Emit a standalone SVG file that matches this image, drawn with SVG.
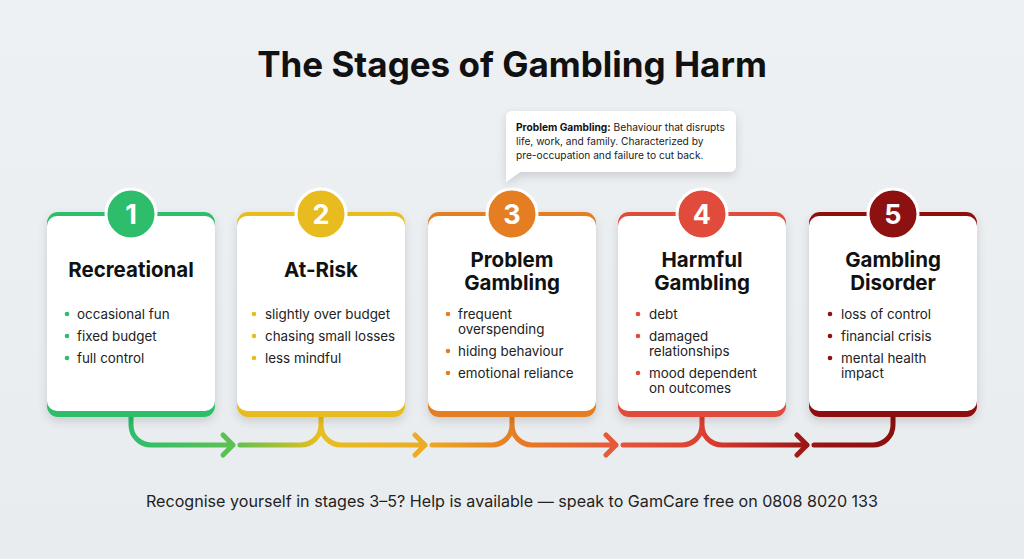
<svg xmlns="http://www.w3.org/2000/svg" width="1024" height="559" viewBox="0 0 1024 559">
<defs>
<style>
.t{font-family:Inter,"Liberation Sans",sans-serif;fill:#111}
.title{font-size:35px;font-weight:700;text-anchor:middle}
.ct{font-size:20.5px;font-weight:700;text-anchor:middle}
.num{font-size:27px;font-weight:700;fill:#fff;text-anchor:middle}
.b{font-size:13.4px;fill:#222}
.cl{font-size:10.2px;fill:#222}
.foot{font-size:16.1px;fill:#222;text-anchor:middle}
.con{fill:none;stroke:url(#cg);stroke-width:5;stroke-linecap:round;stroke-linejoin:round}
.white{fill:#fff}
</style>
<linearGradient id="bg" x1="0" y1="0" x2="0" y2="1">
<stop offset="0" stop-color="#EEF1F4"/><stop offset="1" stop-color="#E9ECEF"/>
</linearGradient>
<linearGradient id="cg" gradientUnits="userSpaceOnUse" x1="131" y1="0" x2="893" y2="0">
<stop offset="0" stop-color="#2DBE6C"/>
<stop offset="0.135" stop-color="#5EC152"/>
<stop offset="0.249" stop-color="#E9BE1F"/>
<stop offset="0.387" stop-color="#EBAB24"/>
<stop offset="0.5" stop-color="#E67E22"/>
<stop offset="0.638" stop-color="#E5573A"/>
<stop offset="0.749" stop-color="#DD4032"/>
<stop offset="0.89" stop-color="#9B1515"/>
<stop offset="1" stop-color="#8B0F0F"/>
</linearGradient>
<filter id="sh" x="-20%" y="-20%" width="140%" height="150%">
<feDropShadow dx="0" dy="4" stdDeviation="5" flood-color="#000" flood-opacity="0.14"/>
</filter>
</defs>
<rect width="1024" height="559" fill="url(#bg)"/>
<text class="t title" x="512" y="77">The Stages of Gambling Harm</text>

<g id="connectors">
<path class="con" d="M131 417 V425 A20 20 0 0 0 151 445 H233 M223 435 L233 445 L223 455"/>
<path class="con" d="M240 445 H301 A20 20 0 0 0 321 425 V417 M321 425 A20 20 0 0 0 341 445 H425 M415 435 L425 445 L415 455"/>
<path class="con" d="M432 445 H492 A20 20 0 0 0 512 425 V417 M512 425 A20 20 0 0 0 532 445 H616 M606 435 L616 445 L606 455"/>
<path class="con" d="M623 445 H682 A20 20 0 0 0 702 425 V417 M702 425 A20 20 0 0 0 722 445 H807 M797 435 L807 445 L797 455"/>
<path class="con" d="M814 445 H873 A20 20 0 0 0 893 425 V417"/>
</g>

<g id="stage1">
<rect x="47" y="212" width="168" height="205" rx="11" fill="#2EBD6B" filter="url(#sh)"/>
<rect x="47" y="216" width="168" height="195" rx="10" class="white"/>
<circle cx="131" cy="214" r="25" fill="#2EBD6B" stroke="#fff" stroke-width="3"/>
<text class="t num" x="131" y="224">1</text>
<text class="t ct" x="131" y="277">Recreational</text>
<g fill="#2EBD6B"><circle cx="67" cy="314" r="2.3"/><circle cx="67" cy="336" r="2.3"/><circle cx="67" cy="358" r="2.3"/></g>
<text class="t b" x="77" y="319">occasional fun</text>
<text class="t b" x="77" y="341">fixed budget</text>
<text class="t b" x="77" y="363">full control</text>
</g>

<g id="stage2">
<rect x="237" y="212" width="168" height="205" rx="11" fill="#E8BC1E" filter="url(#sh)"/>
<rect x="237" y="216" width="168" height="195" rx="10" class="white"/>
<circle cx="321" cy="214" r="25" fill="#E8BC1E" stroke="#fff" stroke-width="3"/>
<text class="t num" x="321" y="224">2</text>
<text class="t ct" x="321" y="277">At-Risk</text>
<g fill="#E8BC1E"><circle cx="254" cy="314" r="2.3"/><circle cx="254" cy="336" r="2.3"/><circle cx="254" cy="358" r="2.3"/></g>
<text class="t b" x="265" y="319">slightly over budget</text>
<text class="t b" x="265" y="341">chasing small losses</text>
<text class="t b" x="265" y="363">less mindful</text>
</g>

<g id="stage3">
<rect x="428" y="212" width="168" height="205" rx="11" fill="#E57E22" filter="url(#sh)"/>
<rect x="428" y="216" width="168" height="195" rx="10" class="white"/>
<circle cx="512" cy="214" r="25" fill="#E57E22" stroke="#fff" stroke-width="3"/>
<text class="t num" x="512" y="224">3</text>
<text class="t ct" x="512" y="267">Problem</text>
<text class="t ct" x="512" y="290">Gambling</text>
<g fill="#E57E22"><circle cx="448" cy="314" r="2.3"/><circle cx="448" cy="351" r="2.3"/><circle cx="448" cy="373" r="2.3"/></g>
<text class="t b" x="458" y="319">frequent</text>
<text class="t b" x="458" y="334">overspending</text>
<text class="t b" x="458" y="356">hiding behaviour</text>
<text class="t b" x="458" y="378">emotional reliance</text>
</g>

<g id="stage4">
<rect x="618" y="212" width="168" height="205" rx="11" fill="#E04B3B" filter="url(#sh)"/>
<rect x="618" y="216" width="168" height="195" rx="10" class="white"/>
<circle cx="702" cy="214" r="25" fill="#E04B3B" stroke="#fff" stroke-width="3"/>
<text class="t num" x="702" y="224">4</text>
<text class="t ct" x="702" y="267">Harmful</text>
<text class="t ct" x="702" y="290">Gambling</text>
<g fill="#E04B3B"><circle cx="638" cy="314" r="2.3"/><circle cx="638" cy="336" r="2.3"/><circle cx="638" cy="373" r="2.3"/></g>
<text class="t b" x="649" y="319">debt</text>
<text class="t b" x="649" y="341">damaged</text>
<text class="t b" x="649" y="356">relationships</text>
<text class="t b" x="649" y="378">mood dependent</text>
<text class="t b" x="649" y="393">on outcomes</text>
</g>

<g id="stage5">
<rect x="809" y="212" width="168" height="205" rx="11" fill="#8E1111" filter="url(#sh)"/>
<rect x="809" y="216" width="168" height="195" rx="10" class="white"/>
<circle cx="893" cy="214" r="25" fill="#8E1111" stroke="#fff" stroke-width="3"/>
<text class="t num" x="893" y="224">5</text>
<text class="t ct" x="893" y="267">Gambling</text>
<text class="t ct" x="893" y="290">Disorder</text>
<g fill="#8E1111"><circle cx="830" cy="314" r="2.3"/><circle cx="830" cy="336" r="2.3"/><circle cx="830" cy="358" r="2.3"/></g>
<text class="t b" x="841" y="319">loss of control</text>
<text class="t b" x="841" y="341">financial crisis</text>
<text class="t b" x="841" y="363">mental health</text>
<text class="t b" x="841" y="378">impact</text>
</g>

<g id="callout">
<path d="M512 111 H730 A6 6 0 0 1 736 117 V166 A6 6 0 0 1 730 172 H520 L506 182 V117 A6 6 0 0 1 512 111 Z" fill="#fff" filter="url(#sh)"/>
<text class="t cl" x="516" y="131"><tspan font-weight="700" fill="#111">Problem Gambling:</tspan> Behaviour that disrupts</text>
<text class="t cl" x="516" y="145">life, work, and family. Characterized by</text>
<text class="t cl" x="516" y="159">pre-occupation and failure to cut back.</text>
</g>

<text class="t foot" x="512" y="507">Recognise yourself in stages 3–5? Help is available — speak to GamCare free on 0808 8020 133</text>
</svg>
